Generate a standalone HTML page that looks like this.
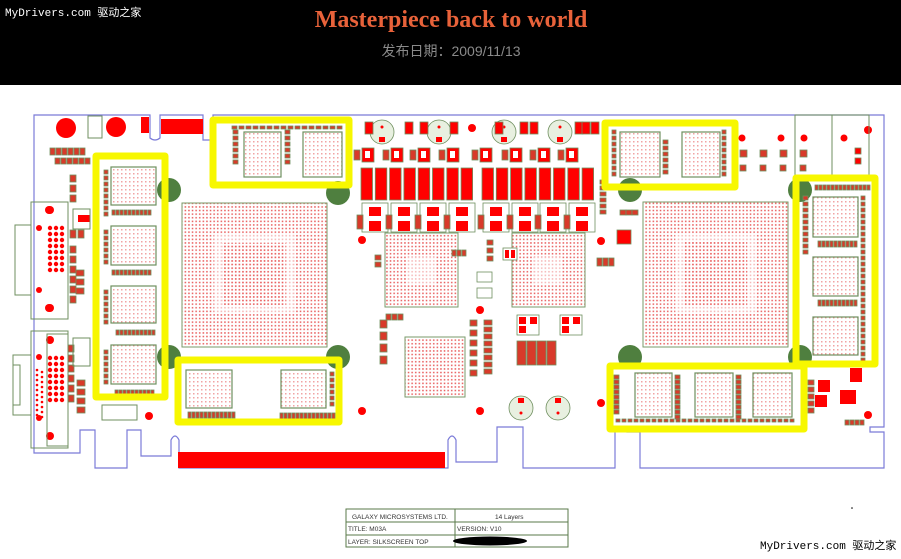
<!DOCTYPE html>
<html><head><meta charset="utf-8"><style>
html,body{margin:0;padding:0;background:#fff;width:901px;height:559px;overflow:hidden}
svg{display:block}
</style></head><body>
<svg id="s" width="901" height="559" viewBox="0 0 901 559" xmlns="http://www.w3.org/2000/svg">
<defs>
<pattern id="bga" width="3.6" height="3.6" patternUnits="userSpaceOnUse"><rect x="1" y="1" width="1.5" height="1.5" fill="#e85a5a"/></pattern>
<pattern id="chip" width="4" height="4" patternUnits="userSpaceOnUse"><rect x="1.2" y="1.2" width="1.2" height="1.2" fill="#e87070"/></pattern>
</defs>
<rect x="0" y="0" width="901" height="85" fill="#000"/>
<text x="5" y="16" font-family="Liberation Mono, WenQuanYi Zen Hei, monospace" font-size="11" fill="#fff">MyDrivers.com 驱动之家</text>
<text x="451" y="27" text-anchor="middle" font-family="Liberation Serif, serif" font-weight="bold" font-size="24" fill="#e8623a">Masterpiece back to world</text>
<text x="451" y="56" text-anchor="middle" font-family="Liberation Sans, Noto Sans CJK SC, sans-serif" font-size="14" fill="#8a8a8a">发布日期：2009/11/13</text>

<g fill="none" stroke="#7b7bd8" stroke-width="1.2">
<path d="M34 453 V115 H150 V138 Q155 142 160 138 V115 H203 V140 H213 V115 H884 V427 H870 V432 H884 V468 H640 V432 H627 V427 H615 V468 H523 V427 H497 V462 H456 V440 Q452 432 448 440 V468 H179 V440 Q175 432 171 440 V456 H141 V430 H127 V468 H95 V430 H80 V453 Z"/>
</g>

<g stroke="#7a9a6a" stroke-width="1">
<rect x="182" y="203" width="145" height="144" fill="url(#bga)"/>
<rect x="643" y="202" width="145" height="145" fill="url(#bga)"/>
<rect x="385" y="233" width="73" height="74" fill="url(#bga)"/>
<rect x="512" y="233" width="73" height="74" fill="url(#bga)"/>
<rect x="405" y="337" width="60" height="60" fill="url(#bga)"/>
</g>
<g fill="#fff" opacity="0.55">
<rect x="214" y="235" width="80" height="78"/><rect x="675" y="234" width="80" height="80"/>
<rect x="407" y="257" width="28" height="28"/><rect x="534" y="257" width="28" height="28"/>
</g>
<g fill="url(#bga)"><rect x="222" y="243" width="64" height="62"/><rect x="683" y="242" width="64" height="64"/></g>

<g fill="#4f7f3f">
<circle cx="169" cy="190" r="12"/><circle cx="338" cy="193" r="12"/><circle cx="169" cy="357" r="12"/><circle cx="338" cy="357" r="12"/>
<circle cx="630" cy="190" r="12"/><circle cx="800" cy="190" r="12"/><circle cx="630" cy="357" r="12"/><circle cx="800" cy="357" r="12"/>
</g>

<g stroke="#6f8f5f" stroke-width="1.2" fill="url(#chip)">
<rect x="111" y="167" width="45" height="38"/><rect x="111" y="226" width="45" height="39"/><rect x="111" y="286" width="45" height="37"/><rect x="111" y="345" width="45" height="39"/>
<rect x="244" y="132" width="37" height="45"/><rect x="303" y="132" width="39" height="45"/>
<rect x="186" y="370" width="46" height="38"/><rect x="281" y="370" width="45" height="38"/>
<rect x="620" y="132" width="40" height="45"/><rect x="682" y="132" width="38" height="45"/>
<rect x="813" y="197" width="45" height="40"/><rect x="813" y="257" width="45" height="39"/><rect x="813" y="317" width="45" height="38"/>
<rect x="635" y="373" width="37" height="44"/><rect x="695" y="373" width="38" height="44"/><rect x="753" y="373" width="39" height="44"/>
</g>

<g fill="#ff0000">
<circle cx="66" cy="128" r="10"/><circle cx="116" cy="127" r="10"/>
<rect x="141" y="117" width="8" height="16"/>
<rect x="161" y="119" width="42" height="15"/>
<rect x="178" y="452" width="267" height="16"/>
<rect x="78" y="215" width="12" height="7"/>
<circle cx="50" cy="210" r="4"/><circle cx="50" cy="308" r="4"/><circle cx="50" cy="340" r="4"/><circle cx="50" cy="436" r="4"/>
<circle cx="149" cy="416" r="4"/><circle cx="362" cy="240" r="4"/><circle cx="362" cy="411" r="4"/>
<circle cx="472" cy="128" r="4"/><circle cx="601" cy="241" r="4"/><circle cx="480" cy="310" r="4"/>
<circle cx="480" cy="411" r="4"/><circle cx="601" cy="403" r="4"/><circle cx="868" cy="130" r="4"/><circle cx="868" cy="415" r="4"/>
<circle cx="742" cy="138" r="3.5"/><circle cx="781" cy="138" r="3.5"/><circle cx="804" cy="138" r="3.5"/><circle cx="844" cy="138" r="3.5"/>
</g>
<g id="gen"></g>

<g fill="none" stroke="#6f8f5f" stroke-width="1">
<rect x="31" y="202" width="37" height="117"/><path d="M31 225 H15 V295 H31"/>
<rect x="31" y="331" width="37" height="117"/><rect x="47" y="334" width="21" height="112"/><path d="M31 355 H13 V415 H31"/><path d="M13 365 H20 V405 H13"/>
<rect x="73" y="209" width="17" height="20"/><rect x="73" y="338" width="17" height="28"/>
<rect x="102" y="405" width="35" height="15"/>
<rect x="88" y="116" width="14" height="22"/>
<rect x="795" y="115" width="37" height="63"/><rect x="832" y="115" width="37" height="63"/>
</g>

<g fill="none" stroke="#f7f700" stroke-width="7" stroke-linejoin="round">
<rect x="96" y="156" width="69" height="241"/>
<rect x="213" y="120" width="136" height="65"/>
<rect x="178" y="360" width="161" height="62"/>
<rect x="605" y="123" width="130" height="64"/>
<rect x="796" y="178" width="79" height="186"/>
<rect x="610" y="366" width="194" height="63"/>
</g>

<g fill="none" stroke="#5a7a4a" stroke-width="1">
<rect x="346" y="509" width="222" height="38"/>
<line x1="346" y1="522" x2="568" y2="522"/><line x1="346" y1="535" x2="568" y2="535"/>
<line x1="455" y1="509" x2="455" y2="547"/>
</g>
<g font-family="Liberation Sans, sans-serif" font-size="6.5" fill="#333">
<text x="352" y="519">GALAXY MICROSYSTEMS  LTD.</text>
<text x="495" y="519">14 Layers</text>
<text x="348" y="531">TITLE:        M03A</text>
<text x="457" y="531">VERSION:  V10</text>
<text x="348" y="544">LAYER: SILKSCREEN TOP</text>
</g>
<ellipse cx="490" cy="541" rx="37" ry="4.5" fill="#000"/>
<circle cx="852" cy="508" r="0.8" fill="#000"/>
<text x="760" y="549" font-family="Liberation Mono, WenQuanYi Zen Hei, monospace" font-size="11" fill="#000">MyDrivers.com 驱动之家</text>
</svg>
<script>
(function(){
var g=document.getElementById('gen'),NS='http://www.w3.org/2000/svg';
function r(x,y,w,h,f,s){var e=document.createElementNS(NS,'rect');e.setAttribute('x',x);e.setAttribute('y',y);e.setAttribute('width',w);e.setAttribute('height',h);e.setAttribute('fill',f||'#f00');if(s){e.setAttribute('stroke',s);e.setAttribute('stroke-width','0.8');}g.appendChild(e);}
function c(x,y,rr,f,s){var e=document.createElementNS(NS,'circle');e.setAttribute('cx',x);e.setAttribute('cy',y);e.setAttribute('r',rr);e.setAttribute('fill',f||'#f00');if(s){e.setAttribute('stroke',s);e.setAttribute('stroke-width','0.8');}g.appendChild(e);}
var G='#6f8f5f';
var xs=[];for(var i=0;i<8;i++){xs.push(361+i*14.3);xs.push(482+i*14.3);}
xs.forEach(function(x){r(x,168,11.5,32,'#f00',G);});
for(var i=0;i<4;i++){[362,420,483,540].forEach(function(b){});}
[362,391,420,449,483,512,540,569].forEach(function(x,i){r(x,203,26,29,'#fff',G);r(x+7,207,12,9);r(x+7,221,12,10);r(x-5,215,6,14,'#d83a2a',G);});
[382,439,504,560].forEach(function(x){c(x,132,12,'#e8f0e0',G);r(x-3,137,6,5);c(x,127,1.5,'#f00');});
[521,558].forEach(function(x){c(x,408,12,'#e8f0e0',G);r(x-3,398,6,5);c(x,413,1.5,'#f00');});
for(var i=0;i<8;i++){var x=[362,391,418,447,480,510,538,566][i];r(x,148,12,14,'#f00',G);r(x+3,151,5,7,'#fff');r(x-8,150,6,10,'#d83a2a',G);}
[365,405,420,450,495,520,530,575,582,591].forEach(function(x){r(x,122,8,12,'#f00',G);});
function col(x,y,n,dx,dy,w,h){for(var i=0;i<n;i++)r(x+i*dx,y+i*dy,w,h,'#d83a2a',G);}
col(104,170,8,0,6,4,4);col(104,230,6,0,6,4,4);col(104,290,6,0,6,4,4);col(104,350,6,0,6,4,4);
col(112,210,10,4,0,3,5);col(112,270,10,4,0,3,5);col(116,330,10,4,0,3,5);col(115,390,10,4,0,3,4);
col(233,130,6,0,6,5,4);col(285,130,6,0,6,5,4);col(232,126,16,7,0,5,3);
col(188,412,12,4,0,3,6);col(280,413,14,4,0,3,6);col(330,372,6,0,6,4,4);
col(612,130,8,0,6,4,4);col(663,140,6,0,6,5,4);col(722,130,8,0,6,4,4);
col(803,196,10,0,6,5,4);col(861,196,28,0,6,4,4);col(815,185,14,4,0,3,5);col(818,241,10,4,0,3,6);col(818,300,10,4,0,3,6);
col(614,375,8,0,5,5,4);col(675,375,9,0,5,5,4);col(736,375,9,0,5,5,4);col(616,419,30,6,0,4,3);
col(50,148,6,6,0,5,7);col(70,175,3,0,10,6,7);col(70,246,6,0,10,6,7);col(68,345,6,0,10,6,7);col(70,230,2,8,0,6,8);
col(380,320,4,0,12,7,8);col(470,320,6,0,10,7,6);col(484,320,8,0,7,8,5);col(600,180,6,0,6,6,4);col(620,210,3,6,0,6,5);
col(55,158,6,6,0,5,6);col(76,270,3,0,9,8,6);col(77,380,4,0,9,8,6);col(375,255,2,0,7,6,5);col(386,314,3,6,0,5,6);
for(var cI=0;cI<3;cI++)for(var rI=0;rI<8;rI++){c(50+cI*6,228+rI*6,2.2);c(50+cI*6,358+rI*6,2.2);}
for(var rI=0;rI<10;rI++){c(37,370+rI*5,1.3);c(42,372+rI*5,1.3);}
c(49,210,4);c(49,308,4);c(39,228,3);c(39,290,3);c(39,357,3);c(39,418,3);
[[517,315],[560,315]].forEach(function(p){r(p[0],p[1],22,20,'#fff',G);r(p[0]+2,p[1]+2,7,7);r(p[0]+13,p[1]+2,7,7);r(p[0]+2,p[1]+11,7,7);});
col(517,341,4,10,0,9,24);
r(617,230,14,14,'#f00',G);r(818,380,12,12);r(840,390,16,14);r(815,395,12,12);r(850,368,12,14);
col(808,380,5,0,7,6,5);col(845,420,4,5,0,4,5);
r(855,148,6,6,'#f00',G);r(855,158,6,6,'#f00',G);col(740,150,4,20,0,7,7);col(740,165,4,20,0,6,6);
r(503,248,14,12,'#fff',G);r(505,250,4,8);r(511,250,4,8);r(477,272,15,10,'#fff',G);r(477,288,15,10,'#fff',G);
col(487,240,3,0,8,6,5);col(597,258,3,6,0,5,8);col(452,250,3,5,0,4,6);
})();
</script>
</body></html>
